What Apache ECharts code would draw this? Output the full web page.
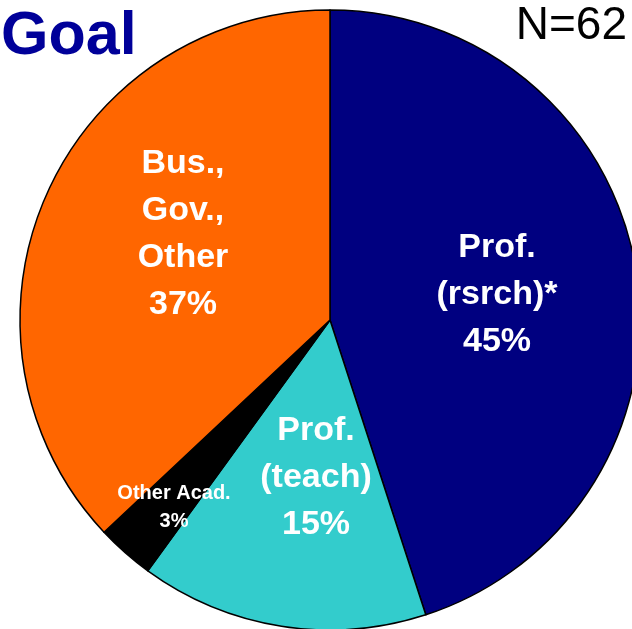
<!DOCTYPE html>
<html>
<head>
<meta charset="UTF-8">
<title>Goal</title>
<script src="https://cdn.jsdelivr.net/npm/echarts@6/dist/echarts.min.js"></script>
<style>
  html, body { margin: 0; padding: 0; background: #fff; }
</style>
</head>
<body>
	<div id="main" style="width: 632px; height: 629px;"></div>

	<script type="text/javascript">
		// data
		var categories = ['Prof.\n(rsrch)*', 'Prof.\n(teach)', 'Other Acad.', 'Bus.,\nGov.,\nOther'];
		var percents = [45, 15, 3, 37];
		var colors = ['#000080', '#33CCCC', '#000000', '#FF6600'];
		// where each label sits (label centre)
		var labelPos = [[497, 295], [316, 478], [174, 507], [183, 234]];

		var myChart = echarts.init(document.getElementById('main'));
		myChart.setOption({
			animation : false,
			title : [ {
				text : 'Goal',
				left : -4,
				top : 2,
				textStyle : {
					fontFamily : 'Liberation Sans',
					fontSize : 61,
					fontWeight : 'bold',
					color : '#000099'
				}
			}, {
				text : 'N=62',
				right : 0,
				top : -2,
				textStyle : {
					fontFamily : 'Liberation Sans',
					fontSize : 46,
					fontWeight : 'normal',
					color : '#000000'
				}
			} ],
			series : [ {
				type : 'pie',
				center : [ 330, 320 ],
				radius : [ 0, 310 ],
				startAngle : 90,
				clockwise : true,
				silent : true,
				itemStyle : {
					borderColor : '#000',
					borderWidth : 1.5
				},
				label : {
					show : true,
					position : 'inside',
					color : '#fff',
					fontFamily : 'Liberation Sans',
					fontWeight : 'bold',
					fontSize : 34,
					lineHeight : 47,
					align : 'center',
					verticalAlign : 'middle',
					formatter : function(p) {
						return p.name + '\n' + p.value + '%';
					}
				},
				labelLine : { show : false },
				labelLayout : function(p) {
					var pos = labelPos[p.dataIndex];
					return { x : pos[0], y : pos[1], align : 'center', verticalAlign : 'middle' };
				},
				data : categories.map(function(c, i) {
					var d = {
						name : c,
						value : percents[i],
						itemStyle : { color : colors[i] }
					};
					if (i === 2) {
						d.label = { fontSize : 20, lineHeight : 28 };
					}
					return d;
				})
			} ]
		});
	</script>
</body>
</html>
